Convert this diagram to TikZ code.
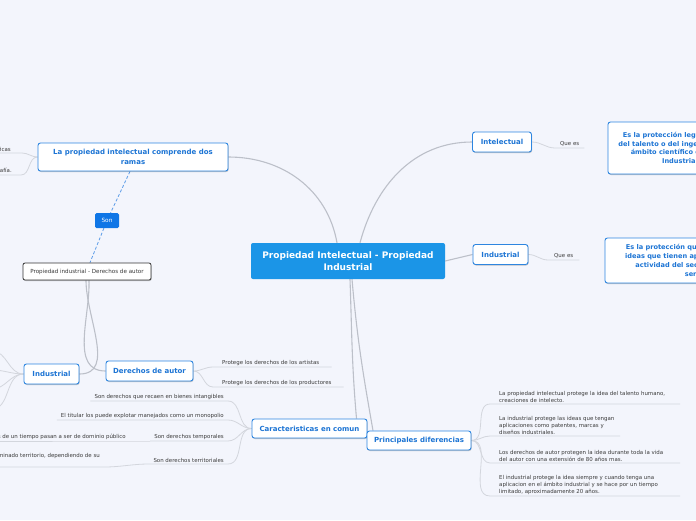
\documentclass[tikz,border=0pt]{standalone}
\usepackage{fontspec}
\setmainfont{DejaVu Sans}
\usetikzlibrary{positioning,shadows}
\definecolor{paper}{HTML}{F3F5FC}
\definecolor{rootblue}{HTML}{1B95E7}
\definecolor{topicblue}{HTML}{2E86E0}
\definecolor{topictext}{HTML}{1C74D4}
\definecolor{sonblue}{HTML}{0F76E6}
\definecolor{dashblue}{HTML}{5A9BE8}
\definecolor{branchgray}{HTML}{BCC0C9}
\definecolor{linegray}{HTML}{D3D6DD}
\definecolor{leaftext}{HTML}{3A3A3A}
\pgfdeclarelayer{bg}
\pgfdeclarelayer{lines}
\pgfsetlayers{bg,lines,main}
\tikzset{
  softshadow/.style={drop shadow={shadow xshift=0.6pt,shadow yshift=-1pt,opacity=0.22,fill=black}},
  rootbox/.style={fill=rootblue,text=white,rounded corners=2pt,align=center,minimum width=194pt,minimum height=36pt,
    font=\bfseries\fontsize{9}{11.5}\selectfont},
  topicbox/.style={draw=topicblue,line width=0.9pt,fill=white,text=topictext,rounded corners=2.5pt,align=center,
    minimum height=20pt,inner sep=2pt,font=\bfseries\fontsize{7}{9.5}\selectfont,softshadow},
  bigbox/.style={topicbox,font=\bfseries\fontsize{6.6}{8.4}\selectfont},
  sonbox/.style={fill=sonblue,text=white,rounded corners=1.5pt,minimum width=24pt,minimum height=15pt,
    font=\fontsize{5.8}{6}\selectfont},
  darkbox/.style={draw=black!80,line width=0.8pt,fill=white,text=leaftext,rounded corners=2pt,
    minimum width=128pt,minimum height=17pt,font=\fontsize{5.6}{6}\selectfont,softshadow},
  leaf/.style={text=leaftext,align=left,inner ysep=1.5pt,font=\fontsize{5.45}{7}\selectfont},
  leafR/.style={leaf,align=right},
  branch/.style={draw=branchgray,line width=1.1pt},
  uline/.style={draw=linegray,line width=0.8pt},
  dashlink/.style={draw=dashblue,line width=0.8pt,dash pattern=on 3pt off 2pt},
}
\begin{document}
\begin{tikzpicture}[x=1pt,y=-1pt]
\useasboundingbox (0,0) rectangle (696,520);
\begin{pgfonlayer}{bg}
\fill[paper] (0,0) rectangle (696,520);
\end{pgfonlayer}

% tema central
\node[rootbox] (root) at (348,261) {Propiedad Intelectual - Propiedad\\Industrial};

% ramas de arriba
\node[topicbox,minimum width=190pt,minimum height=28pt] (ramas) at (133,157) {La propiedad intelectual comprende dos\\ramas};
\node[topicbox,minimum width=59pt] (intel) at (502,142) {Intelectual};
\node[topicbox,minimum width=55pt] (indR) at (500.5,254.5) {Industrial};
\node[bigbox,minimum width=144pt,minimum height=52pt] (defIntel) at (680,148) {Es la protección legal de obras\\del talento o del ingenio humano\\ámbito científico o técnico\\Industrial};
\node[bigbox,minimum width=195pt,minimum height=45pt,font=\bfseries\fontsize{6.6}{9}\selectfont] (defInd) at (702.5,260.5) {Es la protección que se otorga a aquellas\\ideas que tienen aplicación práctica en la\\actividad del sector productivo y de\\servicios.};
\node[leaf,anchor=south west,inner xsep=5pt] (queEs1) at (555,148) {Que es};
\node[leaf,anchor=south west,inner xsep=6pt] (queEs2) at (548,260) {Que es};
\node[leafR,anchor=south east,inner xsep=11pt] (rama1) at (22,153) {invenciones científicas};
\node[leafR,anchor=south east,inner xsep=9pt] (rama2) at (21,175) {obras de arte y fotografía.};

% izquierda
\node[sonbox] (son) at (107,220.5) {Son};
\node[darkbox] (pida) at (87,271.5) {Propiedad industrial - Derechos de autor};
\node[topicbox,minimum width=55pt] (indL) at (51.5,374) {Industrial};
\node[topicbox,minimum width=87pt] (dautor) at (149.5,371) {Derechos de autor};
\node[leaf,anchor=south west,inner xsep=9pt] (artistas) at (213,367) {Protege los derechos de los artistas};
\node[leaf,anchor=south west,inner xsep=9pt] (productores) at (213,387) {Protege los derechos de los productores};
\coordinate (indL1) at (-8,351);
\coordinate (indL2) at (-8,370);
\coordinate (indL3) at (-8,389);
\coordinate (indL4) at (-8,409);

% caracteristicas
\node[topicbox,minimum width=115pt,minimum height=19pt] (carac) at (309.5,428.5) {Caracteristicas en comun};
\node[leafR,anchor=south east,inner xsep=4pt] (car1) at (228,401) {Son derechos que recaen en bienes intangibles};
\node[leafR,anchor=south east,inner xsep=4pt] (car2) at (228,420) {El titular los puede explotar manejados como un monopolio};
\node[leafR,anchor=south east,inner xsep=4pt] (car3) at (228,441) {Son derechos temporales};
\node[leafR,anchor=south east,inner xsep=4pt] (car3b) at (130,441) {Después de un tiempo pasan a ser de dominio público};
\node[leafR,anchor=south east,inner xsep=4pt] (car4) at (228,464) {Son derechos territoriales};
\node[leaf,anchor=south east,inner xsep=4pt] (car4b) at (104,467) {Tienen validez en un determinado territorio, dependiendo de su\\legislación.};

% diferencias
\node[topicbox,minimum width=104pt,minimum height=19pt] (difer) at (419,440.5) {Principales diferencias};
\node[leaf,anchor=south west,inner xsep=9pt] (dif1) at (490,404) {La propiedad intelectual protege la idea del talento humano,\\creaciones de intelecto.};
\node[leaf,anchor=south west,inner xsep=9pt] (dif2) at (490,436) {La industrial protege las ideas que tengan\\aplicaciones como patentes, marcas y\\diseños industriales.};
\node[leaf,anchor=south west,inner xsep=9pt] (dif3) at (490,463) {Los derechos de autor protegen la idea durante toda la vida\\del autor con una extensión de 80 años mas.};
\node[leaf,anchor=south west,inner xsep=9pt] (dif4) at (490,496) {El industrial protege la idea siempre y cuando tenga una\\aplicacion en el ámbito industrial y se hace por un tiempo\\limitado, aproximadamente 20 años.};

\begin{pgfonlayer}{lines}
\draw[branch] (ramas.east) to[out=0,in=100] ([xshift=-11pt]root.north);
\draw[branch] ([xshift=12pt]root.north) to[out=75,in=180] (intel.west);
\draw[branch] (root.east) -- (indR.west);
\draw[branch] ([xshift=2pt]root.south) to[out=-88,in=95] ([xshift=47pt]carac.north);
\draw[branch] ([xshift=4pt]root.south) to[out=-85,in=100] ([xshift=-46pt]difer.north);
\draw[uline] (intel.east) to[out=0,in=180] (queEs1.south west) -- (queEs1.south east);
\draw[uline] (indR.east) to[out=0,in=180] (queEs2.south west) -- (queEs2.south east);
\draw[uline] (ramas.west) to[out=180,in=0] (rama1.south east) -- (rama1.south west);
\draw[uline] (ramas.west) to[out=180,in=0] (rama2.south east) -- (rama2.south west);
\draw[dashlink] ([xshift=-3pt]ramas.south) -- (son) -- ([xshift=3pt]pida.north);
\draw[branch] ([xshift=-1pt]pida.south) to[out=-90,in=0] (indL.east);
\draw[branch] ([xshift=2pt]pida.south) to[out=-88,in=180] (dautor.west);
\foreach \k in {1,2,3,4}
  \draw[uline] (indL.west) to[out=180,in=0] (indL\k);
\draw[uline] (dautor.east) to[out=0,in=180] (artistas.south west) -- ([xshift=3pt]artistas.south east);
\draw[uline] (dautor.east) to[out=0,in=180] (productores.south west) -- ([xshift=3pt]productores.south east);
\foreach \k in {1,2,3,4}
  \draw[uline] (carac.west) to[out=180,in=0] (car\k.south east) -- (car\k.south west);
\draw[uline] (car3.south west) -- (car3b.south east) -- (car3b.south west);
\draw[uline] (car4.south west) to[out=180,in=0] (car4b.south east) -- (car4b.south west);
\foreach \k/\w in {1/190,2/130,3/190,4/190}
  \draw[uline] (difer.east) to[out=0,in=180] (dif\k.south west) -- ++(\w,0);
\end{pgfonlayer}
\end{tikzpicture}
\end{document}
